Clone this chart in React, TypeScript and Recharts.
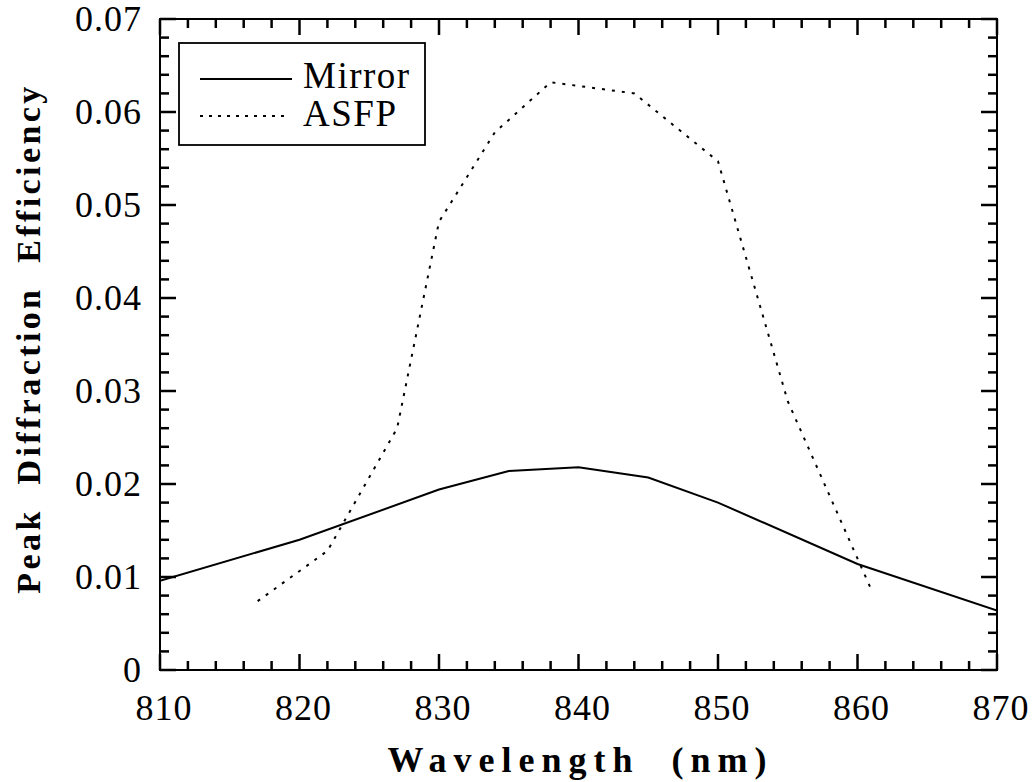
import { LineChart, Line, XAxis, YAxis, ReferenceArea } from 'recharts';

// Mirror (solid) — wavelength in nm, peak diffraction efficiency
const mirrorWavelengths = [810, 820, 830, 835, 840, 845, 850, 860, 870];
const mirrorEfficiency = [0.0096, 0.014, 0.0194, 0.0214, 0.0218, 0.0207, 0.018, 0.0114, 0.0064];

// ASFP (dotted)
const asfpWavelengths = [817, 822, 827, 830, 834, 838, 844, 850, 855, 861];
const asfpEfficiency = [0.0074, 0.0128, 0.026, 0.0482, 0.0578, 0.0632, 0.062, 0.0547, 0.0289, 0.0086];

// axis ticks
const xMajorTicks = [810, 820, 830, 840, 850, 860, 870];
const yMajorTicks = [0, 0.01, 0.02, 0.03, 0.04, 0.05, 0.06, 0.07];
const MINOR_DIVISIONS = 5;

const withMinor = (majors: number[]): number[] => {
  const out: number[] = [];
  for (let i = 0; i < majors.length - 1; i++) {
    const step = (majors[i + 1] - majors[i]) / MINOR_DIVISIONS;
    for (let k = 0; k < MINOR_DIVISIONS; k++) out.push(+(majors[i] + k * step).toFixed(6));
  }
  out.push(majors[majors.length - 1]);
  return out;
};

const xTicks = withMinor(xMajorTicks);
const yTicks = withMinor(yMajorTicks);

const mirrorData = mirrorWavelengths.map((x, i) => ({ x, y: mirrorEfficiency[i] }));
const asfpData = asfpWavelengths.map((x, i) => ({ x, y: asfpEfficiency[i] }));

const SERIF = "'Liberation Serif', 'Times New Roman', Times, serif";
const INK = '#000';
const MAJOR_LEN = 16;
const MINOR_LEN = 9;
const TICK_W = 2.5;
const TICK_FONT = 36;

// chart frame
const W = 1033;
const H = 782;
const M_TOP = 19;
const M_RIGHT = 36;
const Y_AXIS_W = 160;
const X_AXIS_H = 112;
const PLOT_W = W - Y_AXIS_W - M_RIGHT;
const PLOT_H = H - X_AXIS_H - M_TOP;

const isMajor = (v: number, majors: number[]) => majors.some((m) => Math.abs(m - v) < 1e-9);
const fmtY = (v: number) => (v === 0 ? '0' : v.toFixed(2));

// bottom axis tick: inward mark on bottom + mirrored on top
function BottomTick(props: any) {
  const { x, y, payload } = props;
  const major = isMajor(payload.value, xMajorTicks);
  const len = major ? MAJOR_LEN : MINOR_LEN;
  const top = y - PLOT_H;
  return (
    <g>
      <line x1={x} x2={x} y1={y} y2={y - len} stroke={INK} strokeWidth={TICK_W} />
      <line x1={x} x2={x} y1={top} y2={top + len} stroke={INK} strokeWidth={TICK_W} />
      {major && (
        <text x={x + 4} y={y + 50} textAnchor="middle" fontSize={TICK_FONT} fontFamily={SERIF} letterSpacing={1} fill={INK}>
          {payload.value}
        </text>
      )}
    </g>
  );
}

// left axis tick: inward mark on left + mirrored on right
function LeftTick(props: any) {
  const { x, y, payload } = props;
  const major = isMajor(payload.value, yMajorTicks);
  const len = major ? MAJOR_LEN : MINOR_LEN;
  const right = x + PLOT_W;
  return (
    <g>
      <line x1={x} x2={x + len} y1={y} y2={y} stroke={INK} strokeWidth={TICK_W} />
      <line x1={right} x2={right - len} y1={y} y2={y} stroke={INK} strokeWidth={TICK_W} />
      {major && (
        <text x={x - 18} y={y + 12} textAnchor="end" fontSize={TICK_FONT} fontFamily={SERIF} letterSpacing={1} fill={INK}>
          {fmtY(payload.value)}
        </text>
      )}
    </g>
  );
}

function XTitle(props: any) {
  const vb = props.viewBox;
  return (
    <text
      x={vb.x + vb.width / 2 + 2}
      y={vb.y + 102}
      textAnchor="middle"
      fontSize={36}
      fontWeight="bold"
      fontFamily={SERIF}
      letterSpacing={7}
      style={{ whiteSpace: 'pre' }}
      fill={INK}
    >
      {'Wavelength  (nm)'}
    </text>
  );
}

function YTitle(props: any) {
  const vb = props.viewBox;
  const cx = vb.x + 40;
  const cy = vb.y + vb.height / 2 - 6;
  return (
    <text
      x={cx}
      y={cy}
      transform={`rotate(-90 ${cx} ${cy})`}
      textAnchor="middle"
      fontSize={34}
      fontWeight="bold"
      fontFamily={SERIF}
      letterSpacing={3.4}
      style={{ whiteSpace: 'pre' }}
      fill={INK}
    >
      {'Peak  Diffraction  Efficiency'}
    </text>
  );
}

function LegendBox() {
  return (
    <svg width={248} height={104} style={{ position: 'absolute', left: 178, top: 42 }}>
      <rect x={1} y={1} width={246} height={102} fill="#fff" stroke={INK} strokeWidth={1.8} />
      <line x1={22} x2={114} y1={37} y2={37} stroke={INK} strokeWidth={2} />
      <line x1={22} x2={112} y1={74} y2={74} stroke={INK} strokeWidth={2} strokeDasharray="3 6" />
      <text x={125} y={46} fontSize={37} fontFamily={SERIF} letterSpacing={1.5} fill={INK}>Mirror</text>
      <text x={125} y={84} fontSize={37} fontFamily={SERIF} letterSpacing={1.5} fill={INK}>ASFP</text>
    </svg>
  );
}

export default function App() {
  return (
    <div style={{ position: 'absolute', left: 0, top: 0, width: W, height: H, background: '#fff' }}>
      <LineChart width={W} height={H} margin={{ top: M_TOP, right: M_RIGHT, bottom: 0, left: 0 }}>
        <XAxis
          xAxisId="bottom"
          dataKey="x"
          type="number"
          domain={[810, 870]}
          ticks={xTicks}
          interval={0}
          height={X_AXIS_H}
          tickSize={0}
          tickMargin={0}
          tickLine={false}
          axisLine={{ stroke: INK, strokeWidth: 2 }}
          tick={<BottomTick />}
          label={<XTitle />}
          allowDataOverflow
        />
        <YAxis
          yAxisId="left"
          type="number"
          domain={[0, 0.07]}
          ticks={yTicks}
          interval={0}
          width={Y_AXIS_W}
          tickSize={0}
          tickMargin={0}
          tickLine={false}
          axisLine={{ stroke: INK, strokeWidth: 2 }}
          tick={<LeftTick />}
          label={<YTitle />}
          allowDataOverflow
        />
        {/* plot frame (top and right borders) */}
        <ReferenceArea
          xAxisId="bottom"
          yAxisId="left"
          x1={810}
          x2={870}
          y1={0}
          y2={0.07}
          fill="none"
          fillOpacity={0}
          stroke={INK}
          strokeWidth={2}
          ifOverflow="visible"
        />
        <Line
          xAxisId="bottom"
          yAxisId="left"
          data={mirrorData}
          dataKey="y"
          type="linear"
          stroke={INK}
          strokeWidth={2}
          dot={false}
          isAnimationActive={false}
        />
        <Line
          xAxisId="bottom"
          yAxisId="left"
          data={asfpData}
          dataKey="y"
          type="linear"
          stroke={INK}
          strokeWidth={2}
          strokeDasharray="3 7"
          dot={false}
          isAnimationActive={false}
        />
      </LineChart>
      <LegendBox />
    </div>
  );
}
